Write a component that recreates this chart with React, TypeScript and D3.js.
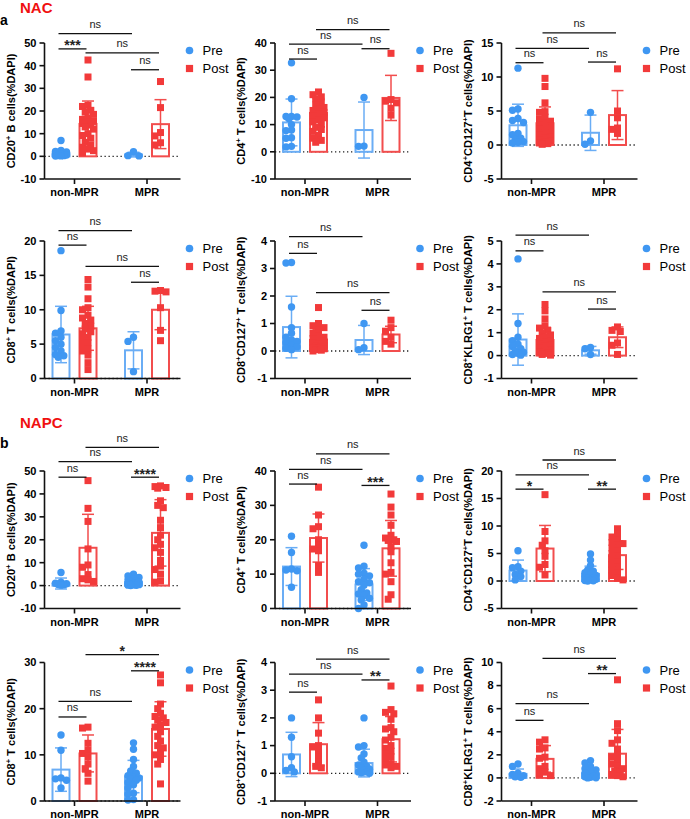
import React from 'react';
import * as d3 from 'd3';

const groups = ['non-MPR', 'MPR'];
const seriesNames = ['Pre', 'Post'];

// point order in every panel: non-MPR Pre, non-MPR Post, MPR Pre, MPR Post
// ---- NAC ----
const nacCd20Points = [
  [7.0, 2.6, 2.2, 1.9, 1.6, 1.3, 1.0, 0.8, 0.6, 0.4, 0.3, 0.2, 0.1],
  [42.5, 35.0, 22.5, 22.0, 20.3, 19.5, 18.5, 17.0, 16.3, 15.5, 15.0, 14.5, 13.8, 13.0, 12.0, 10.0, 9.2, 8.0, 6.2, 5.0, 4.0, 3.2, 2.5, 1.5],
  [2.0, 0.3, 0.2],
  [33.0, 21.5, 10.5, 9.0, 6.0, 5.0],
];
const nacCd20Means = [1.3, 14.3, 0.8, 14.2];
const nacCd20Sds = [1.4, 10.1, 1.0, 10.8];
const nacCd20Sig = [[0, 2, 54.1, 'ns'], [0, 1, 47.4, '***'], [1, 3, 45.6, 'ns'], [2, 3, 38.2, 'ns']];

const nacCd4Points = [
  [32.7, 19.5, 13.0, 13.0, 12.8, 12.2, 10.0, 8.0, 7.8, 5.2, 5.0, 2.0, 1.8],
  [22.0, 21.0, 20.2, 19.5, 18.0, 17.2, 16.3, 15.8, 15.2, 14.5, 14.0, 13.2, 12.5, 11.8, 11.0, 10.2, 9.0, 8.2, 7.5, 6.0, 5.0, 4.2, 3.5],
  [20.0, 2.1, 2.0],
  [36.2, 19.2, 18.6, 18.0, 16.0, 13.5],
];
const nacCd4Means = [10.8, 14.3, 8.0, 19.8];
const nacCd4Sds = [8.6, 5.3, 10.3, 8.3];
const nacCd4Sig = [[1, 3, 44.9, 'ns'], [0, 2, 39.6, 'ns'], [2, 3, 37.9, 'ns'], [0, 1, 34.1, 'ns']];

const nacCd4Cd127Points = [
  [11.3, 5.3, 5.1, 3.9, 3.6, 3.3, 1.7, 1.5, 1.0, 0.8, 0.5, 0.4, 0.3],
  [9.8, 8.6, 6.2, 4.9, 4.8, 4.1, 3.8, 3.5, 3.3, 3.0, 2.8, 2.5, 2.3, 2.0, 1.8, 1.5, 1.2, 1.0, 0.8, 0.6, 0.4, 0.3, 0.2, 0.1],
  [4.8, 0.6, 0.1],
  [11.2, 5.0, 4.0, 2.5, 2.3, 1.7],
];
const nacCd4Cd127Means = [2.9, 3.2, 1.8, 4.4];
const nacCd4Cd127Sds = [3.1, 2.4, 2.6, 3.6];
const nacCd4Cd127Sig = [[1, 3, 16.5, 'ns'], [0, 2, 14.2, 'ns'], [2, 3, 12.2, 'ns'], [0, 1, 12.1, 'ns']];

const nacCd8Points = [
  [18.6, 9.9, 6.9, 6.6, 6.0, 5.5, 5.0, 4.5, 4.0, 3.5, 3.3, 3.1],
  [14.4, 13.3, 11.6, 10.3, 10.0, 9.2, 8.8, 8.5, 8.0, 7.6, 7.2, 6.8, 6.5, 6.0, 5.6, 5.2, 4.8, 4.3, 4.0, 3.4, 2.3, 1.3],
  [6.0, 5.4, 1.0],
  [12.8, 12.7, 12.6, 10.3, 7.0, 5.5],
];
const nacCd8Means = [6.4, 7.3, 4.1, 10.0];
const nacCd8Sds = [4.1, 3.2, 2.7, 2.9];
const nacCd8Sig = [[0, 2, 21.5, 'ns'], [0, 1, 19.4, 'ns'], [1, 3, 16.3, 'ns'], [2, 3, 14.0, 'ns']];

const nacCd8Cd127Points = [
  [3.22, 3.2, 1.6, 0.85, 0.65, 0.5, 0.4, 0.35, 0.3, 0.2, 0.15, 0.1, 0.05],
  [1.58, 1.0, 0.92, 0.85, 0.75, 0.65, 0.55, 0.5, 0.45, 0.4, 0.35, 0.3, 0.25, 0.2, 0.18, 0.15, 0.12, 0.1, 0.08, 0.05, 0.03, 0.0],
  [1.0, 0.12, 0.05],
  [1.12, 0.85, 0.72, 0.5, 0.35, 0.25],
];
const nacCd8Cd127Means = [0.87, 0.4, 0.4, 0.6];
const nacCd8Cd127Sds = [1.12, 0.38, 0.53, 0.3];
const nacCd8Cd127Sig = [[0, 2, 4.16, 'ns'], [0, 1, 3.55, 'ns'], [1, 3, 2.12, 'ns'], [2, 3, 1.48, 'ns']];

const nacCd8Klrg1Points = [
  [4.22, 1.4, 0.8, 0.65, 0.5, 0.4, 0.3, 0.2, 0.15, 0.1, 0.05, 0.02],
  [2.23, 1.95, 1.6, 1.3, 1.2, 1.1, 1.0, 0.9, 0.82, 0.75, 0.65, 0.58, 0.5, 0.45, 0.4, 0.32, 0.25, 0.2, 0.15, 0.1, 0.05, 0.02],
  [0.35, 0.3, 0.05],
  [1.25, 1.1, 1.05, 0.55, 0.45, 0.05],
];
const nacCd8Klrg1Means = [0.7, 0.68, 0.23, 0.8];
const nacCd8Klrg1Sds = [1.12, 0.55, 0.17, 0.45];
const nacCd8Klrg1Sig = [[0, 2, 5.26, 'ns'], [0, 1, 4.57, 'ns'], [1, 3, 2.78, 'ns'], [2, 3, 2.03, 'ns']];

// ---- NAPC ----
const napcCd20Points = [
  [5.7, 1.5, 1.0, 0.8, 0.5, 0.3, 0.2],
  [45.8, 33.7, 28.0, 16.0, 9.0, 8.0, 4.8, 3.0, 2.5, 1.8],
  [5.0, 4.2, 3.5, 3.0, 2.5, 2.0, 1.8, 1.5, 1.2, 1.0, 0.8, 0.6, 0.4, 0.3, 0.2, 0.1, 0.05],
  [43.5, 43.2, 42.8, 42.5, 37.0, 35.0, 34.0, 28.5, 25.3, 22.0, 20.0, 18.0, 16.5, 14.5, 11.0, 8.5, 7.0, 5.0, 2.0, 1.5],
];
const napcCd20Means = [0.9, 16.5, 1.5, 23.0];
const napcCd20Sds = [2.4, 14.6, 1.4, 14.5];
const napcCd20Sig = [[1, 3, 60.3, 'ns'], [0, 2, 54.1, 'ns'], [0, 1, 47.3, 'ns'], [2, 3, 47.3, '****']];

const napcCd4Points = [
  [21.0, 16.3, 11.5, 11.2, 11.0, 6.2],
  [35.3, 27.2, 23.8, 23.2, 20.0, 18.5, 17.3, 16.8, 12.5, 10.5],
  [18.4, 12.3, 11.8, 10.3, 10.0, 9.5, 8.5, 7.8, 7.5, 6.8, 5.5, 4.5, 4.2, 3.8, 3.0, 2.5, 1.0, 0.0],
  [33.3, 29.5, 27.2, 24.2, 21.3, 20.5, 20.0, 19.8, 19.5, 18.0, 16.5, 13.3, 10.5, 10.0, 7.8, 4.0, 2.7],
];
const napcCd4Means = [12.2, 20.5, 7.0, 17.5];
const napcCd4Sds = [5.5, 7.0, 4.6, 8.1];
const napcCd4Sig = [[1, 3, 45.0, 'ns'], [0, 2, 40.5, 'ns'], [0, 1, 36.2, 'ns'], [2, 3, 35.8, '***']];

const napcCd4Cd127Points = [
  [5.5, 2.6, 2.4, 1.8, 1.2, 0.8, 0.2],
  [15.7, 9.0, 7.3, 6.5, 5.5, 4.5, 3.0, 2.5, 1.1],
  [4.9, 3.8, 2.8, 2.0, 1.8, 1.5, 1.2, 1.0, 0.8, 0.6, 0.5, 0.3, 0.2, 0.1, 0.05, 0.0],
  [9.5, 8.5, 8.0, 7.5, 7.0, 6.8, 6.5, 6.0, 5.5, 5.0, 4.5, 4.0, 3.5, 3.0, 2.5, 2.0, 1.5, 1.0, 0.5, 0.2],
];
const napcCd4Cd127Means = [1.9, 5.9, 1.3, 4.7];
const napcCd4Cd127Sds = [1.9, 4.2, 1.4, 2.6];
const napcCd4Cd127Sig = [[1, 3, 22.0, 'ns'], [0, 2, 19.3, 'ns'], [0, 1, 16.7, '*'], [2, 3, 16.7, '**']];

const napcCd8Points = [
  [14.3, 11.0, 5.0, 4.8, 4.5, 2.8],
  [16.0, 15.8, 12.5, 11.0, 10.3, 9.5, 8.0, 7.0, 6.0, 4.3],
  [12.6, 11.2, 9.0, 7.5, 6.5, 6.0, 5.5, 5.2, 5.0, 4.8, 4.5, 4.0, 3.5, 2.8, 1.7, 1.5, 0.3, 0.2],
  [27.3, 25.6, 21.0, 20.0, 19.0, 18.3, 18.0, 17.5, 17.0, 16.5, 16.0, 15.0, 14.0, 13.0, 12.0, 11.5, 10.5, 10.0, 9.0, 8.0, 3.7],
];
const napcCd8Means = [6.8, 10.3, 5.3, 15.6];
const napcCd8Sds = [4.7, 4.0, 3.5, 5.9];
const napcCd8Sig = [[1, 3, 31.7, '*'], [2, 3, 28.2, '****'], [0, 2, 21.6, 'ns'], [0, 1, 18.2, 'ns']];

const napcCd8Cd127Points = [
  [2.0, 1.3, 0.6, 0.2, 0.1, 0.05],
  [2.65, 2.0, 1.45, 1.0, 0.95, 0.8, 0.6, 0.4, 0.25, 0.2],
  [2.0, 1.0, 0.95, 0.7, 0.55, 0.4, 0.3, 0.25, 0.2, 0.15, 0.1, 0.05, 0.05, 0.02, 0.0],
  [3.15, 2.3, 2.2, 2.15, 1.95, 1.65, 1.6, 1.5, 1.3, 1.2, 1.0, 0.9, 0.8, 0.7, 0.6, 0.5, 0.35, 0.3, 0.25, 0.2],
];
const napcCd8Cd127Means = [0.68, 1.05, 0.37, 1.23];
const napcCd8Cd127Sds = [0.8, 0.78, 0.5, 0.82];
const napcCd8Cd127Sig = [[1, 3, 4.12, 'ns'], [0, 2, 3.58, 'ns'], [2, 3, 3.37, '**'], [0, 1, 2.93, 'ns']];

const napcCd8Klrg1Points = [
  [1.2, 1.0, 0.4, 0.3, 0.2, 0.1, 0.05],
  [3.3, 3.1, 2.6, 2.5, 1.8, 1.7, 1.0, 0.8, 0.5, 0.3, 0.2],
  [1.5, 1.3, 1.0, 0.8, 0.7, 0.5, 0.4, 0.3, 0.2, 0.15, 0.1, 0.05, 0.02, 0.0],
  [8.5, 4.7, 4.1, 3.3, 3.0, 2.5, 2.0, 1.8, 1.5, 1.2, 1.0, 0.8, 0.6, 0.5, 0.3, 0.2, 0.1],
];
const napcCd8Klrg1Means = [0.35, 1.65, 0.4, 2.1];
const napcCd8Klrg1Sds = [0.42, 1.15, 0.42, 2.1];
const napcCd8Klrg1Sig = [[1, 3, 10.35, 'ns'], [2, 3, 9.04, '**'], [0, 2, 6.43, 'ns'], [0, 1, 4.99, 'ns']];

// axis titles, "^+" marks a superscript plus
const axisTitles = [
  'CD20^+ B cells(%DAPI)', 'CD4^+ T cells(%DAPI)', 'CD4^+CD127^+T cells(%DAPI)',
  'CD8^+ T cells(%DAPI)', 'CD8^+CD127^+ T cells(%DAPI)', 'CD8^+KLRG1^+ T cells(%DAPI)',
];
const yDomains = [
  [-10, 50, 10], [-10, 40, 10], [-5, 15, 5], [0, 20, 5], [-1, 4, 1], [-1, 5, 1],
  [-10, 50, 10], [0, 40, 10], [-5, 20, 5], [0, 30, 10], [-1, 4, 1], [-2, 10, 2],
];

const panels = [
  { pts: nacCd20Points, means: nacCd20Means, sds: nacCd20Sds, sig: nacCd20Sig },
  { pts: nacCd4Points, means: nacCd4Means, sds: nacCd4Sds, sig: nacCd4Sig },
  { pts: nacCd4Cd127Points, means: nacCd4Cd127Means, sds: nacCd4Cd127Sds, sig: nacCd4Cd127Sig },
  { pts: nacCd8Points, means: nacCd8Means, sds: nacCd8Sds, sig: nacCd8Sig },
  { pts: nacCd8Cd127Points, means: nacCd8Cd127Means, sds: nacCd8Cd127Sds, sig: nacCd8Cd127Sig },
  { pts: nacCd8Klrg1Points, means: nacCd8Klrg1Means, sds: nacCd8Klrg1Sds, sig: nacCd8Klrg1Sig },
  { pts: napcCd20Points, means: napcCd20Means, sds: napcCd20Sds, sig: napcCd20Sig },
  { pts: napcCd4Points, means: napcCd4Means, sds: napcCd4Sds, sig: napcCd4Sig },
  { pts: napcCd4Cd127Points, means: napcCd4Cd127Means, sds: napcCd4Cd127Sds, sig: napcCd4Cd127Sig },
  { pts: napcCd8Points, means: napcCd8Means, sds: napcCd8Sds, sig: napcCd8Sig },
  { pts: napcCd8Cd127Points, means: napcCd8Cd127Means, sds: napcCd8Cd127Sds, sig: napcCd8Cd127Sig },
  { pts: napcCd8Klrg1Points, means: napcCd8Klrg1Means, sds: napcCd8Klrg1Sds, sig: napcCd8Klrg1Sig },
];

// layout
const W = 690, H = 819;
const colX = [44.5, 275, 501.5];
const rowTop = [43, 241, 471, 662.5];
const rowBottom = [179, 378.5, 608.5, 801];
const plotW = 136;
const font = 'Arial, "Liberation Sans", Helvetica, sans-serif';
const blueDot = '#3f97f2', blueBar = '#6aadf5';
const redDot = '#f23a3a', redBar = '#f24d4d';

// simple deterministic swarm, kept inside the bar width
function swarm(vals: number[], y: (v: number) => number, cx: number) {
  const placed: { x: number; y: number }[] = [];
  const offs = [0, -2.8, 2.8, -5.5, 5.5];
  const sorted = [...vals].sort((a, b) => b - a);
  return sorted.map(v => {
    const py = y(v);
    let best = 0, bestD = -1;
    for (const o of offs) {
      let d = Infinity;
      for (const q of placed) d = Math.min(d, Math.hypot(q.x - o, q.y - py));
      if (d >= 5) { best = o; bestD = d; break; }
      if (d > bestD) { bestD = d; best = o; }
    }
    placed.push({ x: best, y: py });
    return { x: cx + best, y: py };
  });
}

function Title({ text, x, y }: { text: string; x: number; y: number }) {
  const parts = text.split('^+');
  const kids: any[] = [];
  parts.forEach((p, i) => {
    kids.push(<tspan key={'t' + i} dy={i > 0 ? 4 : 0}>{p}</tspan>);
    if (i < parts.length - 1) kids.push(<tspan key={'s' + i} dy={-4} fontSize={8}>+</tspan>);
  });
  return (
    <text transform={`translate(${x},${y}) rotate(-90)`} textAnchor="middle"
      fontSize={11} fontWeight="bold" fontFamily={font}>{kids}</text>
  );
}

function Panel({ idx }: { idx: number }) {
  const p = panels[idx];
  const col = idx % 3, row = Math.floor(idx / 3);
  const x0 = colX[col], top = rowTop[row], bottom = rowBottom[row];
  const [lo, hi, step] = yDomains[idx];
  const y = d3.scaleLinear().domain([lo, hi]).range([bottom, top]);
  const gx = d3.scalePoint<string>().domain(groups).range([x0 + 30, x0 + 102.5]);
  const barX = (k: number) => (gx(groups[Math.floor(k / 2)]) as number) + (k % 2 === 0 ? -13.5 : 13.5);
  const ticks = d3.range(lo, hi + step / 2, step);
  const bw = 17;

  return (
    <g>
      {/* zero line */}
      <line x1={x0} x2={x0 + plotW} y1={y(0)} y2={y(0)} stroke="#222" strokeWidth={1.3} strokeDasharray="1.3,2.7" />
      {/* bars */}
      {p.means.map((m, k) => {
        const c = k % 2 === 0 ? blueBar : redBar;
        const cx = barX(k);
        const sd = p.sds[k];
        return (
          <g key={'b' + k}>
            <rect x={cx - bw / 2} y={y(m)} width={bw} height={y(0) - y(m)} fill="white" stroke={c} strokeWidth={2} />
            <line x1={cx} x2={cx} y1={y(m + sd)} y2={y(m - sd)} stroke={c} strokeWidth={1.5} />
            <line x1={cx - 6} x2={cx + 6} y1={y(m + sd)} y2={y(m + sd)} stroke={c} strokeWidth={1.5} />
            <line x1={cx - 6} x2={cx + 6} y1={y(m - sd)} y2={y(m - sd)} stroke={c} strokeWidth={1.5} />
          </g>
        );
      })}
      {/* points */}
      {p.pts.map((vals, k) => swarm(vals, y, barX(k)).map((pt, j) =>
        k % 2 === 0
          ? <circle key={`c${k}-${j}`} cx={pt.x} cy={pt.y} r={3.7} fill={blueDot} />
          : <rect key={`r${k}-${j}`} x={pt.x - 3.5} y={pt.y - 3.5} width={7} height={7} fill={redDot} />
      ))}
      {/* axes */}
      <line x1={x0} x2={x0} y1={top} y2={bottom} stroke="#111" strokeWidth={1.6} />
      <line x1={x0} x2={x0 + plotW} y1={bottom} y2={bottom} stroke="#111" strokeWidth={1.6} />
      {ticks.map(t => (
        <g key={'yt' + t}>
          <line x1={x0 - 5} x2={x0} y1={y(t)} y2={y(t)} stroke="#111" strokeWidth={1.6} />
          <text x={x0 - 8} y={y(t)} dy="0.35em" textAnchor="end" fontSize={11} fontWeight="bold" fontFamily={font}>{t}</text>
        </g>
      ))}
      {groups.map(g => (
        <g key={'xt' + g}>
          <line x1={gx(g)} x2={gx(g)} y1={bottom} y2={bottom + 5} stroke="#111" strokeWidth={1.6} />
          <text x={gx(g)} y={bottom + 17} textAnchor="middle" fontSize={11} fontWeight="bold" fontFamily={font}>{g}</text>
        </g>
      ))}
      <Title text={axisTitles[idx % 6]} x={x0 - 30} y={(top + bottom) / 2} />
      {/* significance */}
      {p.sig.map(([a, b, v, lab], i) => {
        const xa = barX(a as number) - 2.5, xb = barX(b as number) - 1.5;
        const ly = y(v as number);
        const stars = lab !== 'ns';
        return (
          <g key={'s' + i}>
            <line x1={xa} x2={xb} y1={ly} y2={ly} stroke="#111" strokeWidth={1.3} />
            <text x={(xa + xb) / 2} y={stars ? ly + 1.5 : ly - 5.5} textAnchor="middle"
              fontSize={stars ? 14 : 11} fontWeight={stars ? 'bold' : 'normal'} fontFamily={font} fill="#222">{lab}</text>
          </g>
        );
      })}
      {/* legend */}
      {seriesNames.map((s, i) => {
        const ly = top + 7.5 + i * 18;
        return (
          <g key={'lg' + s}>
            {i === 0
              ? <circle cx={x0 + 145} cy={ly} r={3.8} fill={blueDot} />
              : <rect x={x0 + 141.4} y={ly - 3.6} width={7.2} height={7.2} fill={redDot} />}
            <text x={x0 + 158} y={ly} dy="0.35em" fontSize={13} fontFamily={font}>{s}</text>
          </g>
        );
      })}
    </g>
  );
}

export default function App() {
  return (
    <svg width={W} height={H} style={{ position: 'absolute', left: 0, top: 0, background: 'white' }}>
      <rect width={W} height={H} fill="white" />
      <text x={20} y={12.5} fontSize={15} fontWeight="bold" fill="#f01010" fontFamily={font}>NAC</text>
      <text x={0} y={25} fontSize={14} fontWeight="bold" fontFamily={font}>a</text>
      <text x={20} y={428} fontSize={15} fontWeight="bold" fill="#f01010" fontFamily={font}>NAPC</text>
      <text x={0} y={448} fontSize={14} fontWeight="bold" fontFamily={font}>b</text>
      {panels.map((_, i) => <Panel key={i} idx={i} />)}
    </svg>
  );
}
